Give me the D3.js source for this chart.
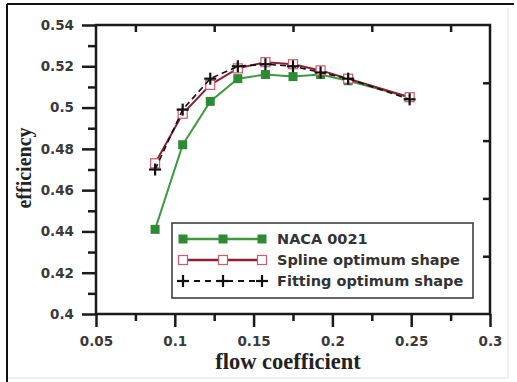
<!DOCTYPE html>
<html>
<head>
<meta charset="utf-8">
<script src="https://cdn.jsdelivr.net/npm/d3@7"></script>
<style>
  body { margin: 0; background: #fff; }
  svg { display: block; }
</style>
</head>
<body>
<svg id="chart" width="517" height="382"></svg>
<script>
// data
const flowCoef = [0.0875, 0.105, 0.1225, 0.14, 0.1575, 0.175, 0.1925, 0.21, 0.249]
const naca = [0.441, 0.482, 0.503, 0.514, 0.516, 0.515, 0.516, 0.513, 0.505]
const spline = [0.473, 0.497, 0.511, 0.519, 0.522, 0.521, 0.518, 0.514, 0.505]
const fitting = [0.470, 0.499, 0.514, 0.520, 0.521, 0.520, 0.517, 0.514, 0.504]
const xTicks = [0.05, 0.1, 0.15, 0.2, 0.25, 0.3]
const yTicks = [0.4, 0.42, 0.44, 0.46, 0.48, 0.5, 0.52, 0.54]
const seriesNames = ['NACA 0021', 'Spline optimum shape', 'Fitting optimum shape']

const svg = d3.select('#chart')
const plotLeft = 96, plotRight = 490, plotTop = 25, plotBottom = 314
const axisColor = '#1a1a1a'
const labelColor = '#3a3a3a'
const sansBold = 'DejaVu Sans, Verdana, sans-serif'
const serifBold = 'Liberation Serif, Times New Roman, serif'

const x = d3.scaleLinear().domain([0.05, 0.3]).range([plotLeft, plotRight])
const y = d3.scaleLinear().domain([0.4, 0.54]).range([plotBottom, plotTop])

// outer frame of the figure
svg.append('line').attr('x1', 7).attr('y1', 4).attr('x2', 514).attr('y2', 4)
  .attr('stroke', '#111').attr('stroke-width', 2)
svg.append('line').attr('x1', 7).attr('y1', 4).attr('x2', 7).attr('y2', 382)
  .attr('stroke', '#111').attr('stroke-width', 2)
svg.append('line').attr('x1', 508).attr('y1', 8).attr('x2', 508).attr('y2', 378)
  .attr('stroke', '#e6e6e6').attr('stroke-width', 1)
svg.append('line').attr('x1', 8).attr('y1', 378).attr('x2', 508).attr('y2', 378)
  .attr('stroke', '#e0e0e0').attr('stroke-width', 1)

// bottom axis: major ticks outside, minor between
const gx = svg.append('g').attr('transform', `translate(0,${plotBottom})`)
  .call(d3.axisBottom(x).tickValues(xTicks).tickSize(13).tickPadding(9).tickFormat(d3.format('')))
gx.selectAll('.tick line').attr('stroke', axisColor).attr('stroke-width', 2.5)
gx.selectAll('.tick text').attr('font-family', sansBold)
  .attr('font-weight', 'bold').attr('font-size', 13.5).attr('fill', labelColor)
gx.select('.domain').remove()
svg.append('g').attr('transform', `translate(0,${plotBottom})`)
  .call(d3.axisBottom(x).tickValues(xTicks.slice(0, -1).map(v => v + 0.025)).tickSize(7).tickFormat(''))
  .call(g => g.select('.domain').remove())
  .selectAll('.tick line').attr('stroke', axisColor).attr('stroke-width', 2.5)

// left axis
const gy = svg.append('g').attr('transform', `translate(${plotLeft},0)`)
  .call(d3.axisLeft(y).tickValues(yTicks).tickSize(14).tickPadding(8).tickFormat(d3.format('')))
gy.selectAll('.tick line').attr('stroke', axisColor).attr('stroke-width', 2.5)
gy.selectAll('.tick text').attr('font-family', sansBold)
  .attr('font-weight', 'bold').attr('font-size', 13.5).attr('fill', labelColor)
gy.select('.domain').remove()
svg.append('g').attr('transform', `translate(${plotLeft},0)`)
  .call(d3.axisLeft(y).tickValues(yTicks.slice(0, -1).map(v => v + 0.01)).tickSize(8).tickFormat(''))
  .call(g => g.select('.domain').remove())
  .selectAll('.tick line').attr('stroke', axisColor).attr('stroke-width', 2.5)

// top axis, ticks pointing in
svg.append('g').attr('transform', `translate(0,${plotTop})`)
  .call(d3.axisBottom(x).tickValues(xTicks.slice(0, -1).map(v => v + 0.025)).tickSize(7).tickFormat(''))
  .call(g => g.select('.domain').remove())
  .selectAll('.tick line').attr('stroke', axisColor).attr('stroke-width', 2.5)

// right axis has its own 5 divisions
const yRight = d3.scaleLinear().domain([0, 5]).range([plotBottom, plotTop])
svg.append('g').attr('transform', `translate(${plotRight},0)`)
  .call(d3.axisLeft(yRight).tickValues([1, 2, 3, 4]).tickSize(7).tickFormat(''))
  .call(g => g.select('.domain').remove())
  .selectAll('.tick line').attr('stroke', axisColor).attr('stroke-width', 2.5)

// plot frame
svg.append('rect').attr('x', plotLeft).attr('y', plotTop)
  .attr('width', plotRight - plotLeft).attr('height', plotBottom - plotTop)
  .attr('fill', 'none').attr('stroke', axisColor).attr('stroke-width', 2.5)

// axis titles
svg.append('text').attr('x', 288).attr('y', 369)
  .attr('text-anchor', 'middle').attr('font-family', serifBold)
  .attr('font-weight', 'bold').attr('font-size', 22.5).attr('fill', '#222')
  .text('flow coefficient')
svg.append('text').attr('transform', 'translate(31,168) rotate(-90)')
  .attr('text-anchor', 'middle').attr('font-family', serifBold)
  .attr('font-weight', 'bold').attr('font-size', 20).attr('fill', '#222')
  .text('efficiency')

const line = d3.line().x(d => x(d[0])).y(d => y(d[1]))
const pts = vals => flowCoef.map((f, i) => [f, vals[i]])

const greenLine = '#3f9a3f', greenMark = '#2f8a35'
const redLine = '#8e1f35', redMark = '#d05a6a'

// NACA 0021
svg.append('path').datum(pts(naca)).attr('d', line)
  .attr('fill', 'none').attr('stroke', greenLine).attr('stroke-width', 2)
svg.selectAll('.naca').data(pts(naca)).join('rect').attr('class', 'naca')
  .attr('x', d => x(d[0]) - 4.5).attr('y', d => y(d[1]) - 4.5)
  .attr('width', 9).attr('height', 9).attr('fill', greenMark)

// Spline optimum shape
svg.append('path').datum(pts(spline)).attr('d', line)
  .attr('fill', 'none').attr('stroke', redLine).attr('stroke-width', 2)
svg.selectAll('.spline').data(pts(spline)).join('rect').attr('class', 'spline')
  .attr('x', d => x(d[0]) - 4.5).attr('y', d => y(d[1]) - 4.5)
  .attr('width', 9).attr('height', 9).attr('fill', '#fff')
  .attr('stroke', redMark).attr('stroke-width', 1.2)

// Fitting optimum shape
svg.append('path').datum(pts(fitting)).attr('d', line)
  .attr('fill', 'none').attr('stroke', '#111').attr('stroke-width', 1.6)
  .attr('stroke-dasharray', '6,4')
const plus = svg.selectAll('.fit').data(pts(fitting)).join('g').attr('class', 'fit')
  .attr('transform', d => `translate(${x(d[0])},${y(d[1])})`)
plus.append('line').attr('x1', -6).attr('x2', 6).attr('stroke', '#111').attr('stroke-width', 2.2)
plus.append('line').attr('y1', -6).attr('y2', 6).attr('stroke', '#111').attr('stroke-width', 2.2)

// legend
const leg = svg.append('g')
leg.append('rect').attr('x', 172).attr('y', 223).attr('width', 301).attr('height', 75)
  .attr('fill', '#fff').attr('stroke', '#333').attr('stroke-width', 1.5)
const rowY = [239, 260, 281]
const markX = [183, 223, 262]
seriesNames.forEach((name, i) => {
  const ry = rowY[i]
  if (i === 0) {
    leg.append('line').attr('x1', 183).attr('x2', 262).attr('y1', ry).attr('y2', ry)
      .attr('stroke', greenLine).attr('stroke-width', 2.5)
    markX.forEach(mx => leg.append('rect').attr('x', mx - 4.5).attr('y', ry - 4.5)
      .attr('width', 9).attr('height', 9).attr('fill', greenMark))
  } else if (i === 1) {
    leg.append('line').attr('x1', 183).attr('x2', 262).attr('y1', ry).attr('y2', ry)
      .attr('stroke', redLine).attr('stroke-width', 2.5)
    markX.forEach(mx => leg.append('rect').attr('x', mx - 4.5).attr('y', ry - 4.5)
      .attr('width', 9).attr('height', 9).attr('fill', '#fff')
      .attr('stroke', redMark).attr('stroke-width', 1.2))
  } else {
    leg.append('line').attr('x1', 183).attr('x2', 262).attr('y1', ry).attr('y2', ry)
      .attr('stroke', '#111').attr('stroke-width', 2).attr('stroke-dasharray', '6,5')
    markX.forEach(mx => {
      leg.append('line').attr('x1', mx - 6).attr('x2', mx + 6).attr('y1', ry).attr('y2', ry)
        .attr('stroke', '#111').attr('stroke-width', 2.2)
      leg.append('line').attr('x1', mx).attr('x2', mx).attr('y1', ry - 6).attr('y2', ry + 6)
        .attr('stroke', '#111').attr('stroke-width', 2.2)
    })
  }
  leg.append('text').attr('x', 277).attr('y', ry + 5)
    .attr('font-family', sansBold).attr('font-weight', 'bold')
    .attr('font-size', 14.5).attr('fill', '#333').text(name)
})
</script>
</body>
</html>
